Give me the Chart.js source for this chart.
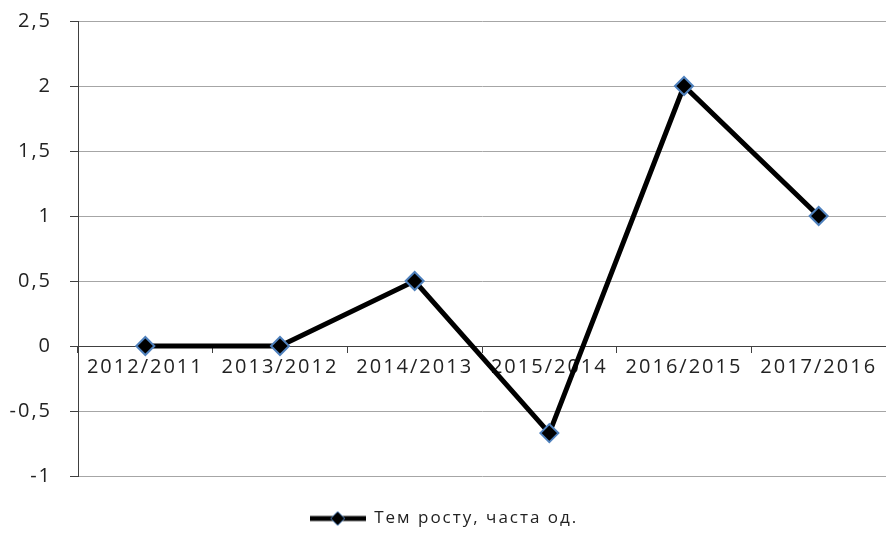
<!DOCTYPE html>
<html>
<head>
<meta charset="utf-8">
<script src="https://cdn.jsdelivr.net/npm/chart.js@4/dist/chart.umd.min.js"></script>
<style>
html,body{margin:0;padding:0;background:#ffffff;}
#wrap{width:886px;height:540px;position:relative;}
</style>
</head>
<body>
<div id="wrap"><canvas id="c" width="886" height="540"></canvas></div>
<script>
const categories = ['2012/2011','2013/2012','2014/2013','2015/2014','2016/2015','2017/2016'];
const growthValues = [0, 0, 0.5, -0.67, 2, 1];
const seriesName = 'Тем росту, часта од.';
const yTicks = [-1, -0.5, 0, 0.5, 1, 1.5, 2, 2.5];

const FONT = '"Open Sans", "Noto Sans", sans-serif';
const TXT = '#222222';

// legend marker image: line with diamond
const mk = document.createElement('canvas');
mk.width = 56; mk.height = 20;
(function(){
  const g = mk.getContext('2d');
  g.strokeStyle = '#000'; g.lineWidth = 5;
  g.beginPath(); g.moveTo(0,10); g.lineTo(56,10); g.stroke();
  g.beginPath(); g.moveTo(28,3); g.lineTo(35,10); g.lineTo(28,17); g.lineTo(21,10); g.closePath();
  g.fillStyle = '#000'; g.fill();
  g.strokeStyle = '#4f81bd'; g.lineWidth = 1; g.stroke();
})();

const spacing = {
  id: 'spacing',
  beforeLayout(chart){ chart.ctx.letterSpacing = '2px'; },
  beforeDraw(chart){ chart.ctx.letterSpacing = '2px'; }
};

new Chart(document.getElementById('c'), {
  type: 'line',
  data: {
    labels: categories,
    datasets: [{
      label: seriesName,
      data: growthValues,
      borderColor: '#000000',
      borderWidth: 5,
      pointStyle: 'rectRot',
      pointRadius: 9,
      pointBackgroundColor: '#000000',
      pointBorderColor: '#4f81bd',
      pointBorderWidth: 2,
      tension: 0,
      clip: false
    }]
  },
  options: {
    responsive: false,
    animation: false,
    layout: { autoPadding: false, padding: { top: 21, right: -2, bottom: 3, left: 0 } },
    plugins: {
      legend: {
        position: 'bottom',
        labels: {
          font: { family: FONT, size: 17 },
          color: TXT,
          usePointStyle: true,
          pointStyleWidth: 56,
          padding: 10,
          generateLabels: (chart) => [{
            text: seriesName,
            pointStyle: mk,
            fillStyle: '#000',
            strokeStyle: '#000',
            lineWidth: 0,
            hidden: false,
            datasetIndex: 0,
            fontColor: TXT
          }]
        }
      },
      tooltip: { enabled: false }
    },
    scales: {
      x: {
        position: { y: 0 },
        offset: true,
        afterFit(scale){ scale.paddingLeft = 0; scale.paddingRight = 0; },
        grid: {
          offset: true,
          drawOnChartArea: false,
          drawTicks: true,
          tickLength: 6,
          color: '#404040'
        },
        border: { display: true, color: '#404040', width: 1 },
        ticks: {
          font: { family: FONT, size: 20 },
          color: TXT,
          padding: 3,
          maxRotation: 0,
          autoSkip: false
        }
      },
      spacer: {
        type: 'category',
        labels: categories,
        position: 'bottom',
        offset: true,
        afterFit(scale){ scale.height = 24; scale.paddingLeft = 0; scale.paddingRight = 0; },
        grid: { display: false, drawTicks: false },
        border: { display: false },
        ticks: { display: false }
      },
      y: {
        min: -1,
        max: 2.5,
        afterFit(scale){ scale.width = 78; scale.paddingTop = 0; scale.paddingBottom = 0; },
        afterBuildTicks(scale){ scale.ticks = yTicks.map(v => ({ value: v })); },
        grid: {
          color: '#a6a6a6',
          tickColor: '#404040',
          tickLength: 8,
          lineWidth: 1
        },
        border: { display: true, color: '#404040', width: 1 },
        ticks: {
          font: { family: FONT, size: 20 },
          color: TXT,
          padding: 18,
          callback: (v) => String(v).replace('.', ',')
        }
      }
    }
  },
  plugins: [spacing]
});
</script>
</body>
</html>
